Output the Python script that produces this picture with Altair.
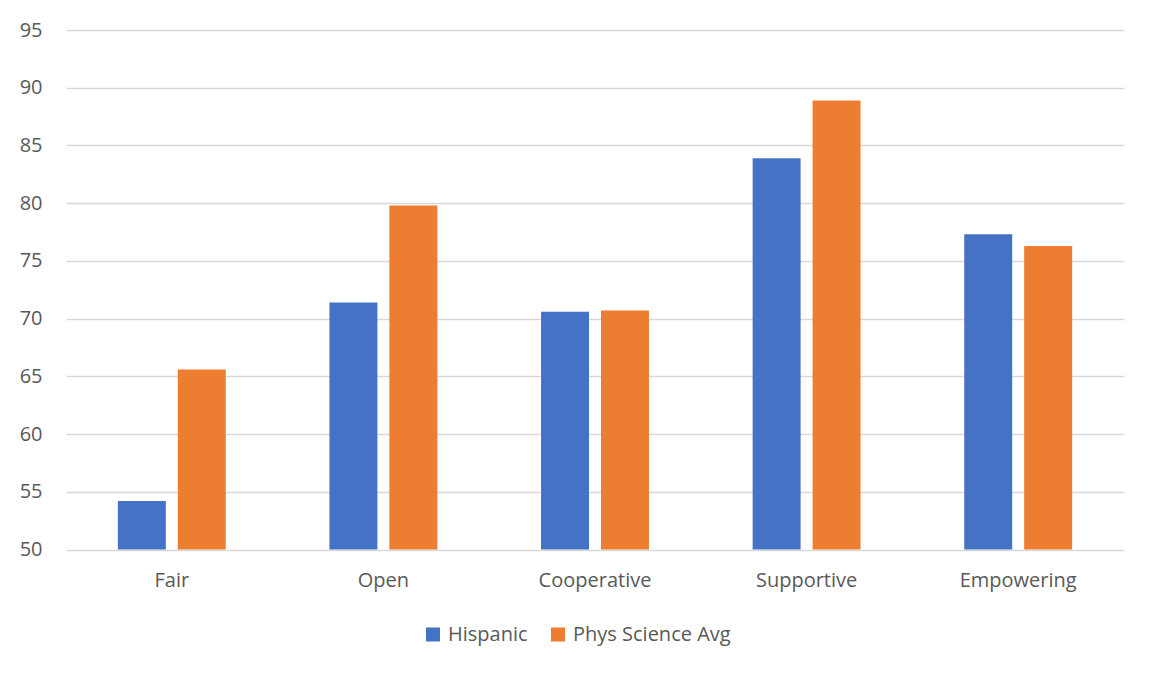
import altair as alt
import pandas as pd

categories = ["Fair", "Open", "Cooperative", "Supportive", "Empowering"]
hispanic = [54.2, 71.4, 70.6, 83.9, 77.3]
phys_avg = [65.6, 79.8, 70.7, 88.9, 76.3]
series = ["Hispanic", "Phys Science Avg"]
colors = ["#4472C4", "#ED7D31"]

rows = []
for c, h, p in zip(categories, hispanic, phys_avg):
    rows.append({"category": c, "series": series[0], "value": h, "base": 50})
    rows.append({"category": c, "series": series[1], "value": p, "base": 50})
df = pd.DataFrame(rows)

FONT = "Open Sans"
TXT = "#595959"
FS = 20

chart = alt.Chart(df).mark_bar().encode(
    x=alt.X("category:N", sort=categories,
            scale=alt.Scale(paddingInner=0.49, paddingOuter=0.245),
            axis=alt.Axis(title=None, labelAngle=0, ticks=False, domain=False, grid=False,
                          labelPadding=21, labelFontSize=FS, labelColor=TXT, labelFont=FONT)),
    xOffset=alt.XOffset("series:N", sort=series,
                        scale=alt.Scale(paddingInner=0.2, paddingOuter=0)),
    y=alt.Y("value:Q", scale=alt.Scale(domain=[50, 95], nice=False, zero=False),
            axis=alt.Axis(title=None, values=list(range(50, 96, 5)), ticks=False, domain=False,
                          labelPadding=24, labelFontSize=FS, labelColor=TXT, labelFont=FONT,
                          gridColor="#D9D9D9", gridWidth=1.3)),
    y2="base:Q",
    color=alt.Color("series:N", sort=series,
                    scale=alt.Scale(domain=series, range=colors),
                    legend=alt.Legend(title=None, orient="none", direction="horizontal",
                                      legendX=357, legendY=75 + 519.5 - 0,
                                      symbolType="square", symbolSize=196, symbolStrokeWidth=0,
                                      labelFontSize=FS, labelColor=TXT, labelFont=FONT,
                                      labelOffset=5, columnPadding=20)),
).properties(
    width=1058, height=519.5,
    autosize=alt.AutoSizeParams(type="none"),
    padding={"left": 58, "top": 22, "right": 20, "bottom": 110},
).configure(background="white").configure_view(strokeWidth=0)

chart.save("out.html", embed_options={"renderer": "svg", "actions": False})
